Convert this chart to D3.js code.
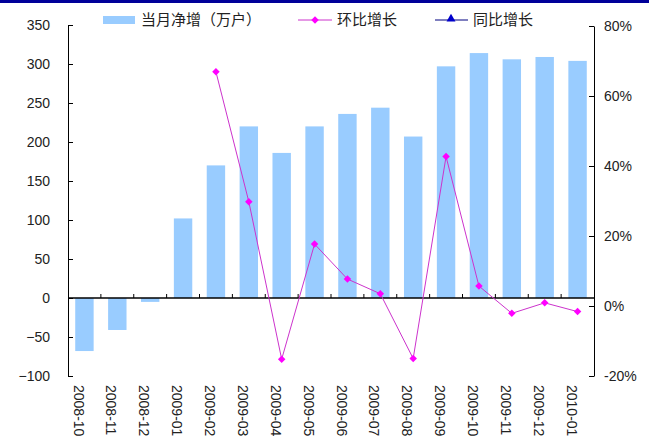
<!DOCTYPE html>
<html>
<head>
<meta charset="utf-8">
<title>当月净增与环比增长</title>
<style>
  body { margin: 0; background: #fff; }
  svg text { font-family: "Liberation Sans", Arial, sans-serif; fill: #222; }
  .legend text { font-family: "Noto Sans CJK SC", sans-serif; }
  .axis path, .axis line { stroke: #000; }
</style>
</head>
<body>
<svg width="649" height="445"></svg>
<script src="https://d3js.org/d3.v7.min.js"></script>
<script>
// months
var months = ["2008-10","2008-11","2008-12","2009-01","2009-02","2009-03","2009-04","2009-05",
              "2009-06","2009-07","2009-08","2009-09","2009-10","2009-11","2009-12","2010-01"];
// 当月净增 (万户)
var netAdd = [-68, -41, -5, 102, 170, 220, 186, 220, 236, 244, 207, 297, 314, 306, 309, 304];
// 环比增长 (%), starts at 2009-02
var momGrowth = [null, null, null, null, 66.9, 29.8, -15.2, 17.7, 7.7, 3.5, -15.0, 42.7, 5.7, -2.1, 0.9, -1.6];
var leftTicks = [-100, -50, 0, 50, 100, 150, 200, 250, 300, 350];
var rightTicks = [-20, 0, 20, 40, 60, 80];
var legendNames = ["当月净增（万户）", "环比增长", "同比增长"];

var svg = d3.select("svg");
var plotL = 68, plotR = 594, plotT = 25, plotB = 376;

// navy strip on top
svg.append("rect").attr("x", 0).attr("y", 0).attr("width", 649).attr("height", 3).attr("fill", "#000099");

var x = d3.scaleBand().domain(months).range([plotL, plotR]).paddingInner(0.44).paddingOuter(0.22);
var yL = d3.scaleLinear().domain([-100, 350]).range([plotB, plotT]);
var yR = d3.scaleLinear().domain([-20, 80]).range([plotB, plotT + 1]);

// diamond marker = square turned 45deg
var diamond = d3.symbol().type(d3.symbolSquare).size(28);

// bars
svg.append("g").selectAll("rect")
  .data(months)
  .enter().append("rect")
    .attr("x", function(d) { return x(d); })
    .attr("width", x.bandwidth())
    .attr("y", function(d, i) { return yL(Math.max(0, netAdd[i])); })
    .attr("height", function(d, i) { return Math.abs(yL(netAdd[i]) - yL(0)); })
    .attr("fill", "#99ccff");

// left axis
svg.append("g").attr("class", "axis")
  .attr("transform", "translate(" + plotL + ",0)")
  .call(d3.axisLeft(yL).tickValues(leftTicks).tickSizeInner(-5).tickSizeOuter(0).tickPadding(18))
  .call(function(g) { g.selectAll("text").style("font-size", "14px"); });

// right axis
svg.append("g").attr("class", "axis")
  .attr("transform", "translate(" + plotR + ",0)")
  .call(d3.axisRight(yR).tickValues(rightTicks).tickSizeInner(-5).tickSizeOuter(0).tickPadding(10)
        .tickFormat(function(d) { return d + "%"; }))
  .call(function(g) { g.selectAll("text").style("font-size", "14px"); });

// zero line with category ticks
var step = x.step();
var zero = svg.append("g").attr("transform", "translate(0," + yL(0) + ")");
zero.append("line").attr("x1", plotL).attr("x2", plotR).attr("stroke", "#000").attr("stroke-width", 1.3);
zero.selectAll("line.tk")
  .data(months.slice(1))
  .enter().append("line")
    .attr("class", "tk")
    .attr("x1", function(d) { return x(d) - step * 0.22; })
    .attr("x2", function(d) { return x(d) - step * 0.22; })
    .attr("y1", 0).attr("y2", -4)
    .attr("stroke", "#000");

// month labels (rotated)
svg.append("g").selectAll("text")
  .data(months)
  .enter().append("text")
    .attr("transform", function(d) { return "translate(" + (x(d) + x.bandwidth() / 2 - 6) + ",385) rotate(90)"; })
    .attr("dy", "0.35em")
    .style("font-size", "14px")
    .text(function(d) { return d; });

// mom line
var pts = months.map(function(m, i) { return { m: m, v: momGrowth[i] }; })
  .filter(function(d) { return d.v !== null; });
var line = d3.line()
  .x(function(d) { return x(d.m) + x.bandwidth() / 2; })
  .y(function(d) { return yR(d.v); });
svg.append("path").datum(pts)
  .attr("d", line).attr("fill", "none").attr("stroke", "#cc33cc").attr("stroke-width", 1);
svg.append("g").selectAll("path")
  .data(pts)
  .enter().append("path")
    .attr("d", diamond)
    .attr("transform", function(d) { return "translate(" + (x(d.m) + x.bandwidth() / 2) + "," + yR(d.v) + ") rotate(45)"; })
    .attr("fill", "#ff00ff");

// legend
var lg = svg.append("g").attr("class", "legend");
lg.append("rect").attr("x", 103).attr("y", 16).attr("width", 32).attr("height", 8).attr("fill", "#99ccff");
lg.append("text").attr("x", 141).attr("y", 20).attr("dy", "0.35em").style("font-size", "15px").text(legendNames[0]);
lg.append("line").attr("x1", 298).attr("x2", 332).attr("y1", 20).attr("y2", 20).attr("stroke", "#cc33cc");
lg.append("path").attr("d", diamond).attr("transform", "translate(315,20) rotate(45)").attr("fill", "#ff00ff");
lg.append("text").attr("x", 337).attr("y", 20).attr("dy", "0.35em").style("font-size", "15px").text(legendNames[1]);
lg.append("line").attr("x1", 435).attr("x2", 468).attr("y1", 20).attr("y2", 20).attr("stroke", "#000080");
lg.append("path").attr("d", d3.symbol().type(d3.symbolTriangle).size(35)).attr("transform", "translate(451,19)").attr("fill", "#0000cc");
lg.append("text").attr("x", 473).attr("y", 20).attr("dy", "0.35em").style("font-size", "15px").text(legendNames[2]);
</script>
</body>
</html>
